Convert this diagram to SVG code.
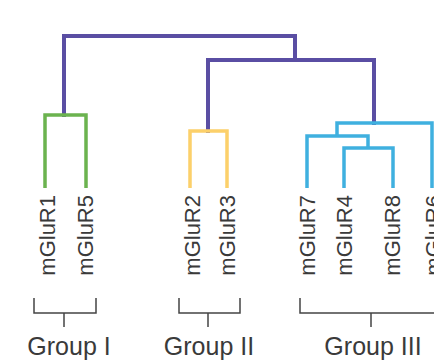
<svg xmlns="http://www.w3.org/2000/svg" width="434" height="362" viewBox="0 0 434 362">
<style>
.p{fill:none;stroke:#5a4ea3;stroke-width:4;stroke-linejoin:miter;stroke-linecap:square}
.g{fill:none;stroke:#6bb34f;stroke-width:3.5}
.y{fill:none;stroke:#fcd06a;stroke-width:3.5}
.b{fill:none;stroke:#3fb0df;stroke-width:3.5}
.br{fill:none;stroke:#444;stroke-width:1.5}
.lab{font-family:"Liberation Sans",Arial,sans-serif;font-size:22px;fill:#3a3a3a;text-anchor:end}
.grp{font-family:"Liberation Sans",Arial,sans-serif;font-size:25px;fill:#3a3a3a;text-anchor:middle}
</style>
<rect width="434" height="362" fill="#ffffff"/>
<g id="connectors">
<path class="p" d="M64,115 V36 H295 V60"/>
<path class="p" d="M208,131 V60 H374 V123"/>
<path class="g" d="M45,188 V115 H86 V188"/>
<path class="y" d="M190,188 V131 H227 V188"/>
<path class="b" d="M307,188 V136 H368 V148"/>
<path class="b" d="M337,136 V123 H432 V188"/>
<path class="b" d="M344,188 V148 H393 V188"/>
</g>
<g id="mGluR1"><text class="lab" transform="translate(55,195) rotate(-90)">mGluR1</text></g>
<g id="mGluR5"><text class="lab" transform="translate(93,195) rotate(-90)">mGluR5</text></g>
<g id="mGluR2"><text class="lab" transform="translate(200,195) rotate(-90)">mGluR2</text></g>
<g id="mGluR3"><text class="lab" transform="translate(235,195) rotate(-90)">mGluR3</text></g>
<g id="mGluR7"><text class="lab" transform="translate(315,195) rotate(-90)">mGluR7</text></g>
<g id="mGluR4"><text class="lab" transform="translate(352,195) rotate(-90)">mGluR4</text></g>
<g id="mGluR8"><text class="lab" transform="translate(400,195) rotate(-90)">mGluR8</text></g>
<g id="mGluR6"><text class="lab" transform="translate(441,195) rotate(-90)">mGluR6</text></g>
<g id="groupI">
<path class="br" d="M34,298 V313 H96 V298 M64,313 V327"/>
<text class="grp" x="69" y="355">Group I</text>
</g>
<g id="groupII">
<path class="br" d="M179,298 V313 H240 V298 M208,313 V327"/>
<text class="grp" x="209" y="355">Group II</text>
</g>
<g id="groupIII">
<path class="br" d="M300,298 V313 H442 V298 M371,313 V327"/>
<text class="grp" x="373" y="355">Group III</text>
</g>
</svg>
